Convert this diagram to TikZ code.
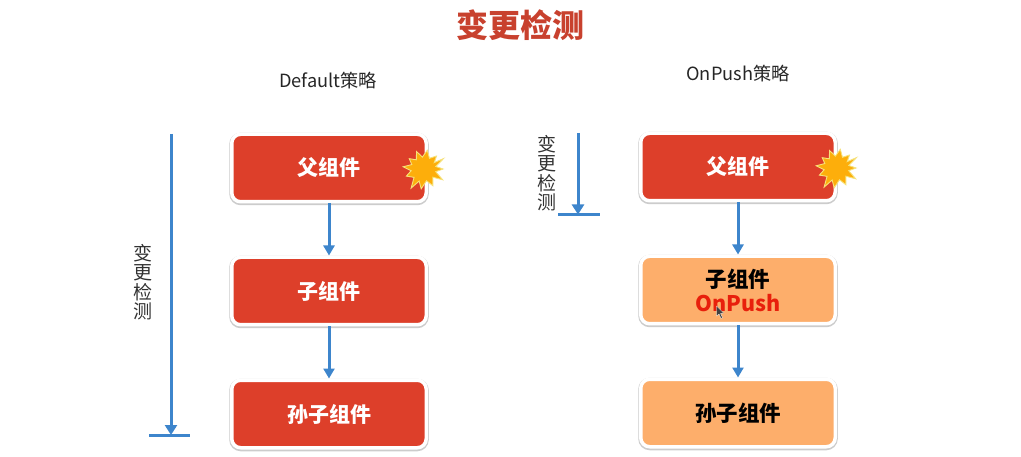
\documentclass[tikz,border=0pt]{standalone}
\usepackage{fontspec}
\setmainfont{Noto Sans CJK SC}
\usetikzlibrary{arrows.meta}
\definecolor{redbox}{HTML}{DD3F2A}
\definecolor{orangebox}{HTML}{FDAE6B}
\definecolor{bluearrow}{HTML}{3D85CC}
\definecolor{titlered}{HTML}{C8412E}
\definecolor{stargold}{HTML}{FDAE0B}
\definecolor{stargedge}{HTML}{F6E27A}
\tikzset{
  x=1pt,y=-1pt,
  compbox/.style={rectangle,rounded corners=9pt,minimum width=194.5pt,minimum height=67.5pt,inner sep=0pt,draw=white,line width=3.5pt,
     preaction={draw=black!20,line width=5pt,transform canvas={yshift=-1pt}}},
  redcomp/.style={compbox,fill=redbox,text=white,font=\fontsize{21}{24}\selectfont\bfseries},
  orangecomp/.style={compbox,fill=orangebox,text=black,font=\fontsize{21.5}{24}\selectfont\bfseries},
  flow/.style={draw=bluearrow,line width=3pt,-{Triangle[length=10pt,width=11pt]}},
  span/.style={draw=bluearrow,line width=3pt,-{Triangle[length=10pt,width=12pt]}},
  bar/.style={draw=bluearrow,line width=3pt},
  heading/.style={font=\fontsize{18.2}{21}\selectfont,text=black!85},
  sidelabel/.style={font=\fontsize{19}{19.5}\selectfont,text=black!80,align=center},
  burst/.pic={
    \fill[stargold,draw=stargedge,line width=.9pt,line join=miter]
      (0:19) -- (13:12) -- (30:21.5) -- (43:12) -- (62:19) -- (78:12) -- (98:20) -- (112:13) -- (124:23)
      -- (140:13) -- (158:19) -- (172:13) -- (186:21) -- (200:13) -- (215:18) -- (230:12) -- (247:19)
      -- (262:12) -- (280:19) -- (297:12) -- (314:18) -- (328:12) -- (332:22) -- (348:12) -- cycle;
  },
}
\begin{document}
\begin{tikzpicture}
\useasboundingbox (0,0) rectangle (1021,457);
\fill[white] (0,0) rectangle (1021,457);
\node[font=\fontsize{32}{34}\selectfont\bfseries,text=titlered] (title) at (520,25) {变更检测};
\node[heading] (hl) at (328,81) {Default策略};
\node[heading] (hr) at (738,74) {OnPush策略};

\node[redcomp] (p1) at (329,168) {父组件};
\node[redcomp] (c1) at (329,291) {子组件};
\node[redcomp] (g1) at (329,414) {孙子组件};
\pic (s1) at (424,169) {burst};

\node[redcomp] (p2) at (738,167) {父组件};
\node[orangecomp,align=center] (c2) at (738,290) {子组件\\\textcolor[HTML]{E8200C}{OnPush}};
\node[orangecomp] (g2) at (738,413) {孙子组件};
\pic (s2) at (837,168) {burst};

\draw[flow] (p1) -- (c1);
\draw[flow] (c1) -- (g1);
\draw[flow] (p2) -- (c2);
\draw[flow] (c2) -- (g2);

\coordinate (lt) at (171,134);
\coordinate (lb) at (171,435);
\coordinate (lb1) at (149,435);
\coordinate (lb2) at (190,435);
\draw[span] (lt) -- (lb);
\draw[bar] (lb1) -- (lb2);
\node[sidelabel] (ll) at (143,282) {变\\更\\检\\测};

\coordinate (rt) at (578,133);
\coordinate (rb) at (578,214.5);
\coordinate (rb1) at (558,214.5);
\coordinate (rb2) at (600,214.5);
\draw[span] (rt) -- (rb);
\draw[bar] (rb1) -- (rb2);
\node[sidelabel] (lr) at (547,173) {变\\更\\检\\测};

% mouse pointer
\fill[black!75,draw=white,line width=.3pt] (716.5,306) -- (716.5,316) -- (719,314) -- (721,318.5) -- (722.5,317.5) -- (720.5,313.5) -- (723.5,313) -- cycle;
\end{tikzpicture}
\end{document}
